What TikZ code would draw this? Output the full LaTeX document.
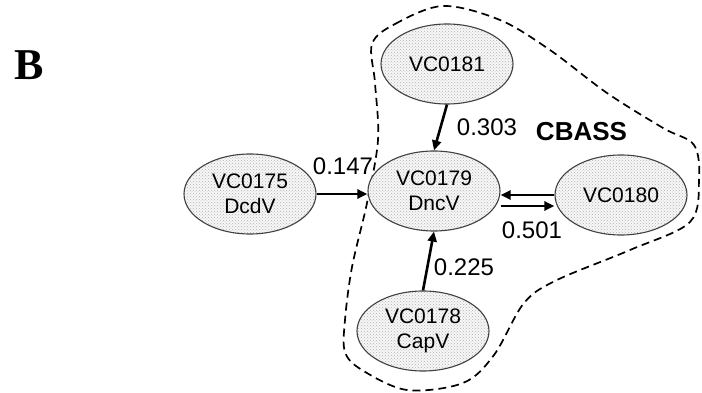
\documentclass[tikz,border=0pt]{standalone}
\usepackage{fontspec}
\setmainfont{Liberation Sans}
\newfontfamily\serifB{Liberation Serif}
\usetikzlibrary{shapes.geometric,patterns,arrows.meta}
\tikzset{
  gene/.style={ellipse, draw=black!75, line width=1.1pt, minimum width=132pt, minimum height=80pt, inner sep=0pt,
    preaction={fill=gray!6}, pattern=crosshatch dots, pattern color=gray!60,
    align=center, font=\fontsize{21}{25}\selectfont},
  link/.style={line width=2.6pt, -{Triangle[length=10pt,width=9pt]}},
  wlabel/.style={font=\fontsize{24}{28}\selectfont, inner sep=0pt},
  region/.style={line width=1.7pt, dash pattern=on 8pt off 5pt}
}
\begin{document}
\begin{tikzpicture}[x=1pt,y=-1pt]
\useasboundingbox (0,0) rectangle (702,393);
\draw[region] plot[smooth cycle, tension=0.55] coordinates {
 (372,44) (395,24) (443,6) (500,20) (550,50) (607,93) (663,128) (694,145)
 (699,180) (690,222) (630,250) (557,280) (524,303) (494,355) (463,383)
 (407,390) (362,370) (345,352) (345,320) (352,267) (367,203) (378,140) (375,83)};
\node[font=\serifB\bfseries\fontsize{44}{48}\selectfont, inner sep=0pt] (lab) at (29,65.5) {B};
\node[gene] (c175) at (250,194) {VC0175\\DcdV};
\node[gene] (c179) at (434,191) {VC0179\\DncV};
\node[gene] (c181) at (447,64) {VC0181};
\node[gene] (c180) at (621,195) {VC0180};
\node[gene] (c178) at (423,331) {VC0178\\CapV};
\draw[link] (c175.east) -- (c175.east -| c179.west);
\draw[link] (c181.south) -- (c179.north);
\draw[link] (c178.north) -- (c179.south);
\draw[link] (c180.west) -- (c180.west -| c179.east);
\draw[link] ([yshift=-15pt]c179.east) -- ([yshift=-15pt]c179.east -| c180.west);
\node[wlabel] (w147) at (343,166) {0.147};
\node[wlabel] (w303) at (487,127.5) {0.303};
\node[wlabel] (w501) at (532,230) {0.501};
\node[wlabel] (w225) at (464,267.5) {0.225};
\node[font=\bfseries\fontsize{26}{30}\selectfont, inner sep=0pt] (cbass) at (581.5,132) {CBASS};
\end{tikzpicture}
\end{document}
